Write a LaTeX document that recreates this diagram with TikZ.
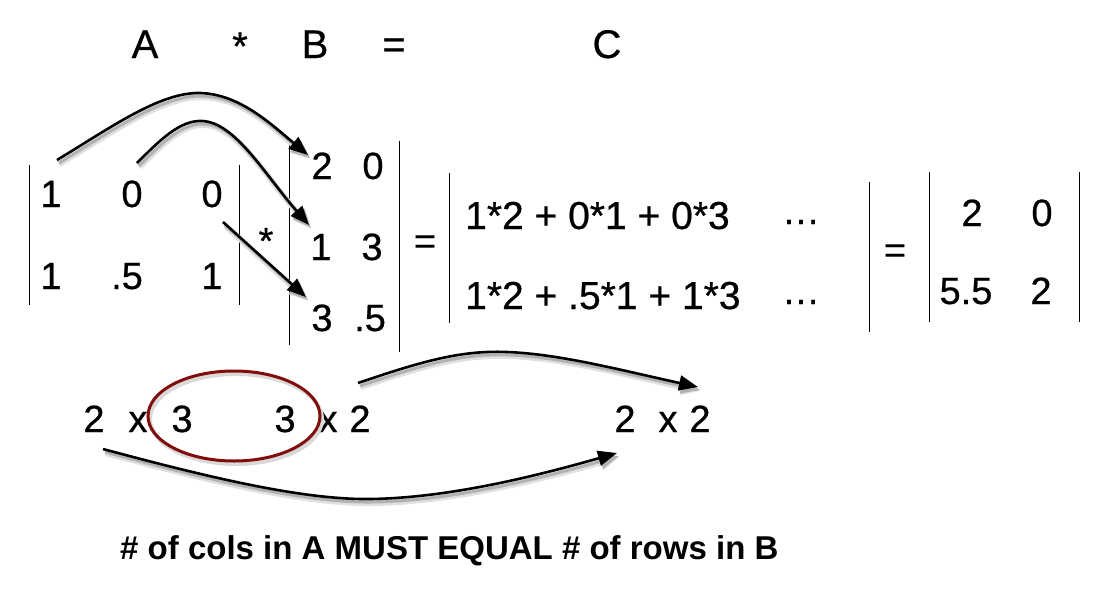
\documentclass[tikz,border=0pt]{standalone}
\usepackage{fontspec}
\setmainfont{Liberation Sans}
\newfontfamily\heavyish[FakeBold=0.6]{Liberation Sans}
\usetikzlibrary{arrows.meta}
\definecolor{ovalred}{RGB}{128,12,12}
\tikzset{
  ent/.style={font=\heavyish\fontsize{38}{40}\selectfont, inner sep=0pt, anchor=base},
  hdr/.style={font=\heavyish\fontsize{40}{42}\selectfont, inner sep=0pt, anchor=base},
  sumrow/.style={font=\heavyish\fontsize{39}{41}\selectfont, inner sep=0pt, anchor=base west},
  note/.style={font=\fontsize{33}{35}\selectfont\bfseries, inner sep=0pt, anchor=base west},
  bar/.style={line width=1pt},
  tip/.style={-{Triangle[length=19pt,width=15pt]}},
  arr/.style={line width=2.6pt, tip,
    preaction={draw=black!12, line width=6pt, tip, transform canvas={xshift=2.5pt,yshift=-4pt}},
    preaction={draw=black!30, line width=3pt, tip, transform canvas={xshift=2pt,yshift=-3pt}}},
  ovalline/.style={draw=ovalred, line width=3pt,
    preaction={draw=black!15, line width=4pt, transform canvas={xshift=2pt,yshift=-3pt}}},
}
\begin{document}
\begin{tikzpicture}[x=1pt,y=-1pt]
\useasboundingbox (0,0) rectangle (1108,592);
\fill[white] (0,0) rectangle (1108,592);

% header
\node[hdr] (hA) at (145,58) {A};
\node[hdr] (hstar) at (240,60) {*};
\node[hdr] (hB) at (315,58) {B};
\node[hdr] (heq) at (394,58) {=};
\node[hdr] (hC) at (607,58) {C};

% matrix A
\coordinate (Alt) at (29,165); \coordinate (Alb) at (29,305);
\coordinate (Art) at (239,165); \coordinate (Arb) at (239,305);
\draw[bar] (Alt) -- (Alb);
\draw[bar] (Art) -- (Arb);
\node[ent] (a11) at (51,207) {1};
\node[ent] (a12) at (132,207) {0};
\node[ent] (a13) at (212,207) {0};
\node[ent] (a21) at (51,289) {1};
\node[ent] (a22) at (127,289) {.5};
\node[ent] (a23) at (212,289) {1};

\node[ent] (mstar) at (266,254) {*};

% matrix B
\coordinate (Blt) at (289,142); \coordinate (Blb) at (289,345);
\coordinate (Brt) at (399,141); \coordinate (Brb) at (399,352);
\draw[bar] (Blt) -- (Blb);
\draw[bar] (Brt) -- (Brb);
\node[ent] (b11) at (322,179) {2};
\node[ent] (b12) at (373,179) {0};
\node[ent] (b21) at (321,260) {1};
\node[ent] (b22) at (372,260) {3};
\node[ent] (b31) at (322,331) {3};
\node[ent] (b32) at (370,331) {.5};

\node[ent] (eq1) at (425,254) {=};

% product matrix
\coordinate (Mlt) at (449,173); \coordinate (Mlb) at (449,323);
\coordinate (Mrt) at (869,182); \coordinate (Mrb) at (869,332);
\draw[bar] (Mlt) -- (Mlb);
\draw[bar] (Mrt) -- (Mrb);
\node[sumrow] (m1) at (465,229) {1*2 + 0*1 + 0*3};
\node[sumrow] (m2) at (465,309) {1*2 + .5*1 + 1*3};
\node[ent] (d1) at (801,224) {…};
\node[ent] (d2) at (801,304) {…};

\node[ent] (eq2) at (895,263) {=};

% matrix C
\coordinate (Clt) at (929,172); \coordinate (Clb) at (929,322);
\coordinate (Crt) at (1079,172); \coordinate (Crb) at (1079,322);
\draw[bar] (Clt) -- (Clb);
\draw[bar] (Crt) -- (Crb);
\node[ent] (c11) at (972,226) {2};
\node[ent] (c12) at (1042,226) {0};
\node[ent] (c21) at (966,304) {5.5};
\node[ent] (c22) at (1041,304) {2};

% dimensions row
\node[ent] (d2a) at (94,432) {2};
\node[ent] (dxa) at (138,432) {x};
\node[ent] (d3a) at (182,432) {3};
\node[ent] (d3b) at (285,432) {3};
\node[ent] (dxb) at (328,432) {x};
\node[ent] (d2b) at (360,432) {2};
\node[ent] (r2a) at (625,432) {2};
\node[ent] (rx) at (668,432) {x};
\node[ent] (r2b) at (700,432) {2};

\draw[ovalline] (234,416) ellipse [x radius=86pt, y radius=45pt];

% arrows
\coordinate (s1) at (57,160); \coordinate (e1) at (308,155);
\coordinate (s2) at (137,163); \coordinate (e2) at (309,225);
\coordinate (s3) at (223,222); \coordinate (e3) at (306,297);
\coordinate (s4) at (358,383); \coordinate (e4) at (698,387);
\coordinate (s5) at (103,449); \coordinate (e5) at (617,453);

\draw[arr] (s1) .. controls (110,128) and (160,92) .. (200,93)
                .. controls (240,94) and (272,125) .. (e1);
\draw[arr] (s2) .. controls (160,140) and (180,120) .. (202,121)
                .. controls (235,122) and (265,175) .. (e2);
\draw[arr] (s3) -- (e3);
\draw[arr] (s4) .. controls (420,362) and (460,350) .. (507,352)
                .. controls (560,354) and (620,370) .. (e4);
\draw[arr] (s5) .. controls (200,475) and (300,500) .. (370,499)
                .. controls (450,498) and (540,475) .. (e5);

\node[note] (rule) at (120,559) {\# of cols in A MUST EQUAL \# of rows in B};
\end{tikzpicture}
\end{document}
